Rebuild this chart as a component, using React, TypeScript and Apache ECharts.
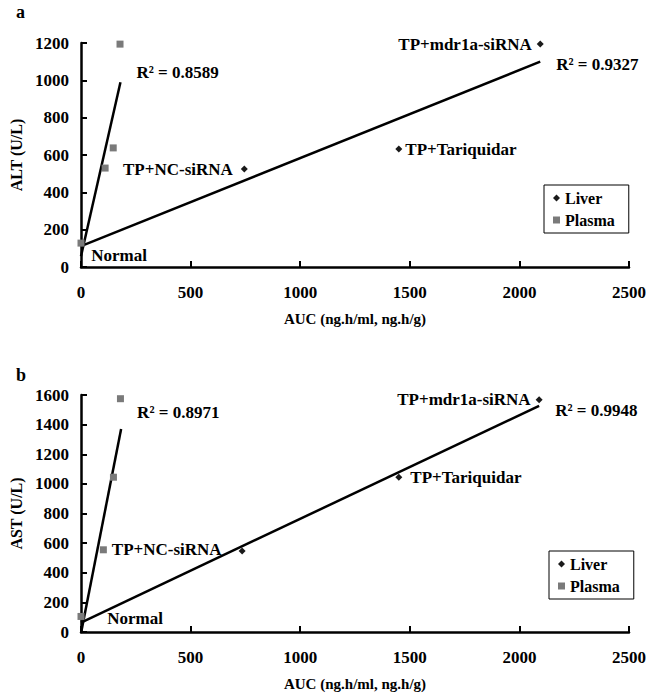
import React, { useEffect, useRef } from 'react';
import * as echarts from 'echarts';

const groups = ['Normal', 'TP+NC-siRNA', 'TP+Tariquidar', 'TP+mdr1a-siRNA'];
const xTicks = [0, 500, 1000, 1500, 2000, 2500];
const yTicksA = [0, 200, 400, 600, 800, 1000, 1200];
const yTicksB = [0, 200, 400, 600, 800, 1000, 1200, 1400, 1600];

// Panel a (ALT)
const aucLiverA = [3, 745, 1450, 2095];
const altLiver = [125, 525, 632, 1194];
const aucPlasmaA = [0, 110, 147, 178];
const altPlasma = [128, 530, 638, 1194];
const altLiverFitX = [0, 2095];
const altLiverFitY = [112, 1100];
const altPlasmaFitX = [0, 180];
const altPlasmaFitY = [58, 990];
const r2LiverA = '0.9327';
const r2PlasmaA = '0.8589';

// Panel b (AST)
const aucLiverB = [3, 735, 1450, 2090];
const astLiver = [100, 547, 1045, 1568];
const aucPlasmaB = [0, 102, 148, 180];
const astPlasma = [105, 555, 1045, 1575];
const astLiverFitX = [0, 2090];
const astLiverFitY = [64, 1527];
const astPlasmaFitX = [1, 183];
const astPlasmaFitY = [0, 1370];
const r2LiverB = '0.9948';
const r2PlasmaB = '0.8971';

const FONT = '"Liberation Serif", "Times New Roman", serif';
const lblText = { color: '#000', fontFamily: FONT, fontWeight: 'bold' as const, fontSize: 17, opacity: 1 };

// label placement styles per group index (Normal, NC, Tariquidar, mdr1a)
const liverLabelsA: any[] = [
  { position: 'right', distance: 6, offset: [0, 12] },
  { position: 'left', distance: 8, offset: [0, 0] },
  { position: 'right', distance: 3, offset: [0, 0] },
  { position: 'left', distance: 5, offset: [0, 0] },
];
const liverLabelsB: any[] = [
  { position: 'right', distance: 22, offset: [0, 1] },
  { position: 'left', distance: 17, offset: [0, -1] },
  { position: 'right', distance: 8, offset: [0, 0] },
  { position: 'left', distance: 5, offset: [0, 0] },
];

function pts(xs: number[], ys: number[]) {
  return xs.map((x, i) => [x, ys[i]]);
}

function liverData(xs: number[], ys: number[], lbls: any[]) {
  return xs.map((x, i) => ({
    value: [x, ys[i]],
    label: { show: true, formatter: groups[i], ...lblText, ...lbls[i] },
  }));
}

function fitData(xs: number[], ys: number[], r2: string, offset: number[]) {
  return [
    { value: [xs[0], ys[0]] },
    {
      value: [xs[1], ys[1]],
      label: {
        show: true,
        position: 'right',
        distance: 16,
        offset,
        formatter: 'R² = ' + r2,
        ...lblText,
      },
    },
  ];
}

const axisLineStyle = { lineStyle: { color: '#000', width: 2.5 } };
const axisLabelStyle = {
  color: '#000',
  fontFamily: FONT,
  fontWeight: 'bold' as const,
  fontSize: 17,
  formatter: (v: number) => String(v),
};
const nameStyle = { color: '#000', fontFamily: FONT, fontWeight: 'bold' as const, fontSize: 15 };

function xAxis(gridIndex: number) {
  return {
    type: 'value',
    gridIndex,
    min: xTicks[0],
    max: xTicks[xTicks.length - 1],
    interval: xTicks[1] - xTicks[0],
    axisLine: { show: true, ...axisLineStyle },
    axisTick: { show: true, inside: true, length: 6, lineStyle: { color: '#000', width: 2 } },
    axisLabel: { ...axisLabelStyle, margin: 17 },
    splitLine: { show: false },
    name: 'AUC (ng.h/ml, ng.h/g)',
    nameLocation: 'middle',
    nameGap: 44,
    nameTextStyle: nameStyle,
  };
}

function yAxis(gridIndex: number, ticks: number[], name: string) {
  return {
    type: 'value',
    gridIndex,
    min: ticks[0],
    max: ticks[ticks.length - 1],
    interval: ticks[1] - ticks[0],
    axisLine: { show: true, ...axisLineStyle },
    axisTick: { show: true, inside: true, length: 6, lineStyle: { color: '#000', width: 2 } },
    axisLabel: { ...axisLabelStyle, margin: 12 },
    splitLine: { show: false },
    name,
    nameLocation: 'middle',
    nameRotate: 90,
    nameGap: 54,
    nameTextStyle: { ...nameStyle, fontSize: 16 },
  };
}

const liverStyle = { color: '#1a1a1a', opacity: 1 };
const plasmaStyle = { color: '#7a7a7a', opacity: 1 };
const fitLine = { color: '#000', width: 2.5 };

function legend(left: number, top: number) {
  return {
    left,
    top,
    orient: 'vertical',
    data: [
      { name: 'Liver', icon: 'diamond' },
      { name: 'Plasma', icon: 'rect' },
    ],
    itemWidth: 7,
    itemHeight: 7,
    itemGap: 6,
    padding: [5, 14, 5, 9],
    borderColor: '#000',
    borderWidth: 1,
    selectedMode: false,
    textStyle: { color: '#000', fontFamily: FONT, fontWeight: 'bold', fontSize: 16 },
  };
}

export default function App() {
  const ref = useRef<HTMLDivElement>(null);
  useEffect(() => {
    if (!ref.current) return;
    const chart = echarts.init(ref.current, undefined, { renderer: 'svg' });
    chart.setOption({
      animation: false,
      backgroundColor: '#fff',
      grid: [
        { left: 81, right: 16, top: 43, height: 224 },
        { left: 81, right: 16, top: 395, height: 237 },
      ],
      xAxis: [xAxis(0), xAxis(1)],
      yAxis: [yAxis(0, yTicksA, 'ALT (U/L)'), yAxis(1, yTicksB, 'AST (U/L)')],
      legend: [legend(544, 185), legend(549, 551)],
      graphic: [
        { type: 'text', left: 16, top: 3, style: { text: 'a', font: 'bold 18px ' + FONT, fill: '#000' } },
        { type: 'text', left: 16, top: 366, style: { text: 'b', font: 'bold 18px ' + FONT, fill: '#000' } },
      ],
      series: [
        {
          type: 'line', name: 'fitLiverA', xAxisIndex: 0, yAxisIndex: 0,
          data: fitData(altLiverFitX, altLiverFitY, r2LiverA, [0, 3]),
          symbol: 'circle', symbolSize: 0, showSymbol: true, lineStyle: fitLine, itemStyle: { color: '#000' }, z: 2,
        },
        {
          type: 'line', name: 'fitPlasmaA', xAxisIndex: 0, yAxisIndex: 0,
          data: fitData(altPlasmaFitX, altPlasmaFitY, r2PlasmaA, [0, -10]),
          symbol: 'circle', symbolSize: 0, showSymbol: true, lineStyle: fitLine, itemStyle: { color: '#000' }, z: 2,
        },
        {
          type: 'scatter', name: 'Liver', xAxisIndex: 0, yAxisIndex: 0,
          data: liverData(aucLiverA, altLiver, liverLabelsA),
          symbol: 'diamond', symbolSize: 7, itemStyle: liverStyle, z: 3,
        },
        {
          type: 'scatter', name: 'Plasma', xAxisIndex: 0, yAxisIndex: 0,
          data: pts(aucPlasmaA, altPlasma),
          symbol: 'rect', symbolSize: 7, itemStyle: plasmaStyle, z: 4,
        },
        {
          type: 'line', name: 'fitLiverB', xAxisIndex: 1, yAxisIndex: 1,
          data: fitData(astLiverFitX, astLiverFitY, r2LiverB, [0, 5]),
          symbol: 'circle', symbolSize: 0, showSymbol: true, lineStyle: fitLine, itemStyle: { color: '#000' }, z: 2,
        },
        {
          type: 'line', name: 'fitPlasmaB', xAxisIndex: 1, yAxisIndex: 1,
          data: fitData(astPlasmaFitX, astPlasmaFitY, r2PlasmaB, [0, -17]),
          symbol: 'circle', symbolSize: 0, showSymbol: true, lineStyle: fitLine, itemStyle: { color: '#000' }, z: 2,
        },
        {
          type: 'scatter', name: 'Liver', xAxisIndex: 1, yAxisIndex: 1,
          data: liverData(aucLiverB, astLiver, liverLabelsB),
          symbol: 'diamond', symbolSize: 7, itemStyle: liverStyle, z: 3,
        },
        {
          type: 'scatter', name: 'Plasma', xAxisIndex: 1, yAxisIndex: 1,
          data: pts(aucPlasmaB, astPlasma),
          symbol: 'rect', symbolSize: 7, itemStyle: plasmaStyle, z: 4,
        },
      ],
    });
    return () => chart.dispose();
  }, []);
  return (
    <div
      ref={ref}
      style={{ position: 'absolute', left: 0, top: 0, width: 649, height: 693, background: '#fff' }}
    />
  );
}
